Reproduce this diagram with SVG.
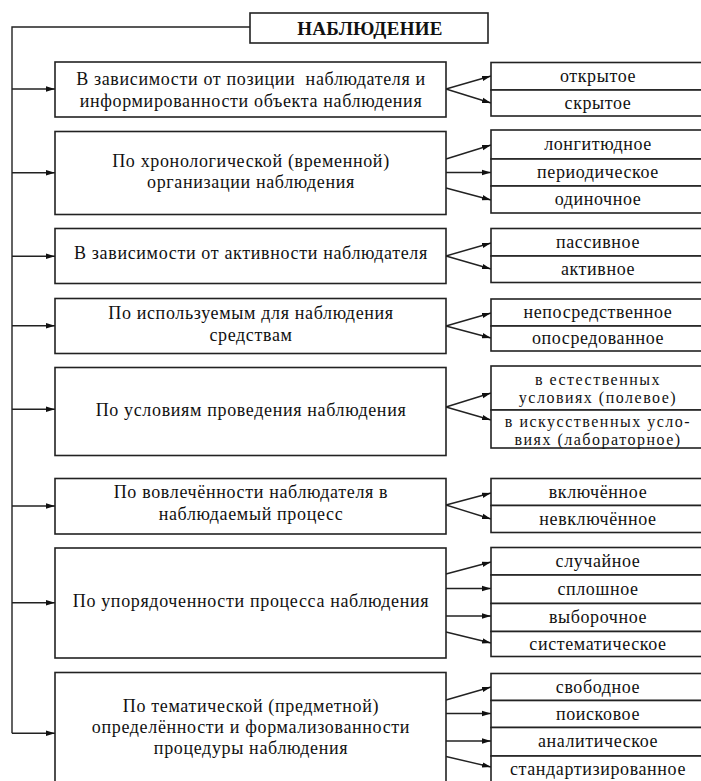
<svg xmlns="http://www.w3.org/2000/svg" width="701" height="781" viewBox="0 0 701 781">
<style>
.box{fill:#fff;stroke:#222;stroke-width:1.6}
.t{font-family:"Liberation Serif","Noto Serif","DejaVu Serif","Times New Roman",serif;font-size:18px;letter-spacing:0.65px;fill:#111;text-anchor:middle}
.s{font-family:"Liberation Serif","Noto Serif","DejaVu Serif","Times New Roman",serif;font-size:18px;letter-spacing:0.6px;fill:#111;text-anchor:middle}
.m{font-family:"Liberation Serif","Noto Serif","DejaVu Serif","Times New Roman",serif;font-size:16px;letter-spacing:1.5px;fill:#111;text-anchor:middle}
.h{font-family:"Liberation Serif","Noto Serif","DejaVu Serif","Times New Roman",serif;font-size:19px;letter-spacing:0.3px;font-weight:bold;fill:#111;text-anchor:middle}
.c{fill:none;stroke:#222;stroke-width:1.4}
</style>
<defs>
<marker id="ah" markerUnits="userSpaceOnUse" markerWidth="10" markerHeight="8" refX="9" refY="4" orient="auto">
<path d="M0,1.3 L9,4 L0,6.7 Z" fill="#111"/>
</marker>
</defs>
<rect width="701" height="781" fill="#fff"/>

<g id="connectors">
<path class="c" d="M250,27 H12 V733.3"/>
<path class="c" marker-end="url(#ah)" d="M12,89 H55"/>
<path class="c" marker-end="url(#ah)" d="M12,172.7 H55"/>
<path class="c" marker-end="url(#ah)" d="M12,256.3 H55"/>
<path class="c" marker-end="url(#ah)" d="M12,325.7 H55"/>
<path class="c" marker-end="url(#ah)" d="M12,409.3 H55"/>
<path class="c" marker-end="url(#ah)" d="M12,506 H55"/>
<path class="c" marker-end="url(#ah)" d="M12,602.7 H55"/>
<path class="c" marker-end="url(#ah)" d="M12,733.3 H55"/>

<path class="c" marker-end="url(#ah)" d="M446,89 L491,76"/>
<path class="c" marker-end="url(#ah)" d="M446,89 L491,103"/>

<path class="c" marker-end="url(#ah)" d="M446,159 L491,145"/>
<path class="c" marker-end="url(#ah)" d="M446,172.5 L491,172.5"/>
<path class="c" marker-end="url(#ah)" d="M446,188 L491,200"/>

<path class="c" marker-end="url(#ah)" d="M446,256 L491,243"/>
<path class="c" marker-end="url(#ah)" d="M446,256 L491,269"/>

<path class="c" marker-end="url(#ah)" d="M446,326 L491,313"/>
<path class="c" marker-end="url(#ah)" d="M446,326 L491,338"/>

<path class="c" marker-end="url(#ah)" d="M446,407 L491,393"/>
<path class="c" marker-end="url(#ah)" d="M446,407 L491,420"/>

<path class="c" marker-end="url(#ah)" d="M446,505 L491,493"/>
<path class="c" marker-end="url(#ah)" d="M446,505 L491,519"/>

<path class="c" marker-end="url(#ah)" d="M446,574 L491,562"/>
<path class="c" marker-end="url(#ah)" d="M446,588.5 L491,588.5"/>
<path class="c" marker-end="url(#ah)" d="M446,616 L491,616"/>
<path class="c" marker-end="url(#ah)" d="M446,632 L491,643"/>

<path class="c" marker-end="url(#ah)" d="M446,700 L491,687"/>
<path class="c" marker-end="url(#ah)" d="M446,713.5 L491,713.5"/>
<path class="c" marker-end="url(#ah)" d="M446,741 L491,741"/>
<path class="c" marker-end="url(#ah)" d="M446,756.5 L491,767"/>
</g>

<g id="root">
<rect class="box" x="250" y="13" width="238" height="30"/>
<text class="h" x="370" y="35">НАБЛЮДЕНИЕ</text>
</g>

<g id="c1">
<rect class="box" x="55" y="62" width="391" height="55"/>
<text class="t" x="251" y="85" xml:space="preserve">В зависимости от позиции  наблюдателя и</text>
<text class="t" x="251" y="106.5">информированности объекта наблюдения</text>
</g>
<g id="c2">
<rect class="box" x="55" y="131.5" width="391" height="83"/>
<text class="t" x="251" y="166.5">По хронологической (временной)</text>
<text class="t" x="251" y="187.5">организации наблюдения</text>
</g>
<g id="c3">
<rect class="box" x="55" y="228.5" width="391" height="55"/>
<text class="t" x="251" y="259">В зависимости от активности наблюдателя</text>
</g>
<g id="c4">
<rect class="box" x="55" y="298.5" width="391" height="55"/>
<text class="t" x="251" y="318.5">По используемым для наблюдения</text>
<text class="t" x="251" y="340.5">средствам</text>
</g>
<g id="c5">
<rect class="box" x="55" y="367.5" width="391" height="88"/>
<text class="t" x="251" y="416">По условиям проведения наблюдения</text>
</g>
<g id="c6">
<rect class="box" x="55" y="478.5" width="391" height="55.5"/>
<text class="t" x="251" y="497.5">По вовлечённости наблюдателя в</text>
<text class="t" x="251" y="520">наблюдаемый процесс</text>
</g>
<g id="c7">
<rect class="box" x="55" y="548" width="391" height="110"/>
<text class="t" x="251" y="607">По упорядоченности процесса наблюдения</text>
</g>
<g id="c8">
<rect class="box" x="55" y="672.5" width="391" height="120"/>
<text class="t" x="251" y="712">По тематической (предметной)</text>
<text class="t" x="251" y="733">определённости и формализованности</text>
<text class="t" x="251" y="754">процедуры наблюдения</text>
</g>

<g id="r1a"><rect class="box" x="491" y="62.5" width="214" height="27.5"/><text class="s" x="598" y="82">открытое</text></g>
<g id="r1b"><rect class="box" x="491" y="90" width="214" height="26"/><text class="s" x="598" y="108.5">скрытое</text></g>

<g id="r2a"><rect class="box" x="491" y="130" width="214" height="29"/><text class="s" x="598" y="150">лонгитюдное</text></g>
<g id="r2b"><rect class="box" x="491" y="159" width="214" height="27"/><text class="s" x="598" y="178">периодическое</text></g>
<g id="r2c"><rect class="box" x="491" y="186" width="214" height="27"/><text class="s" x="598" y="205">одиночное</text></g>

<g id="r3a"><rect class="box" x="491" y="228.5" width="214" height="27.5"/><text class="s" x="598" y="248">пассивное</text></g>
<g id="r3b"><rect class="box" x="491" y="256" width="214" height="26.5"/><text class="s" x="598" y="275">активное</text></g>

<g id="r4a"><rect class="box" x="491" y="299" width="214" height="27"/><text class="s" x="598" y="318">непосредственное</text></g>
<g id="r4b"><rect class="box" x="491" y="326" width="214" height="25"/><text class="s" x="598" y="344">опосредованное</text></g>

<g id="r5a"><rect class="box" x="491" y="366" width="214" height="44"/><text class="m" x="598" y="384.5">в естественных</text><text class="m" x="598" y="402.5">условиях (полевое)</text></g>
<g id="r5b"><rect class="box" x="491" y="410" width="214" height="38"/><text class="m" x="598" y="426.5">в искусственных усло-</text><text class="m" x="598" y="444.5">виях (лабораторное)</text></g>

<g id="r6a"><rect class="box" x="491" y="478.5" width="214" height="27"/><text class="s" x="598" y="498">включённое</text></g>
<g id="r6b"><rect class="box" x="491" y="505.5" width="214" height="27"/><text class="s" x="598" y="525">невключённое</text></g>

<g id="r7a"><rect class="box" x="491" y="547.5" width="214" height="27.5"/><text class="s" x="598" y="567">случайное</text></g>
<g id="r7b"><rect class="box" x="491" y="575" width="214" height="28.5"/><text class="s" x="598" y="595">сплошное</text></g>
<g id="r7c"><rect class="box" x="491" y="603.5" width="214" height="28"/><text class="s" x="598" y="623">выборочное</text></g>
<g id="r7d"><rect class="box" x="491" y="631.5" width="214" height="25"/><text class="s" x="598" y="650">систематическое</text></g>

<g id="r8a"><rect class="box" x="491" y="673.5" width="214" height="27"/><text class="s" x="598" y="693">свободное</text></g>
<g id="r8b"><rect class="box" x="491" y="700.5" width="214" height="27"/><text class="s" x="598" y="720">поисковое</text></g>
<g id="r8c"><rect class="box" x="491" y="727.5" width="214" height="28.5"/><text class="s" x="598" y="747">аналитическое</text></g>
<g id="r8d"><rect class="box" x="491" y="756" width="214" height="30"/><text class="s" x="598" y="775">стандартизированное</text></g>
</svg>
